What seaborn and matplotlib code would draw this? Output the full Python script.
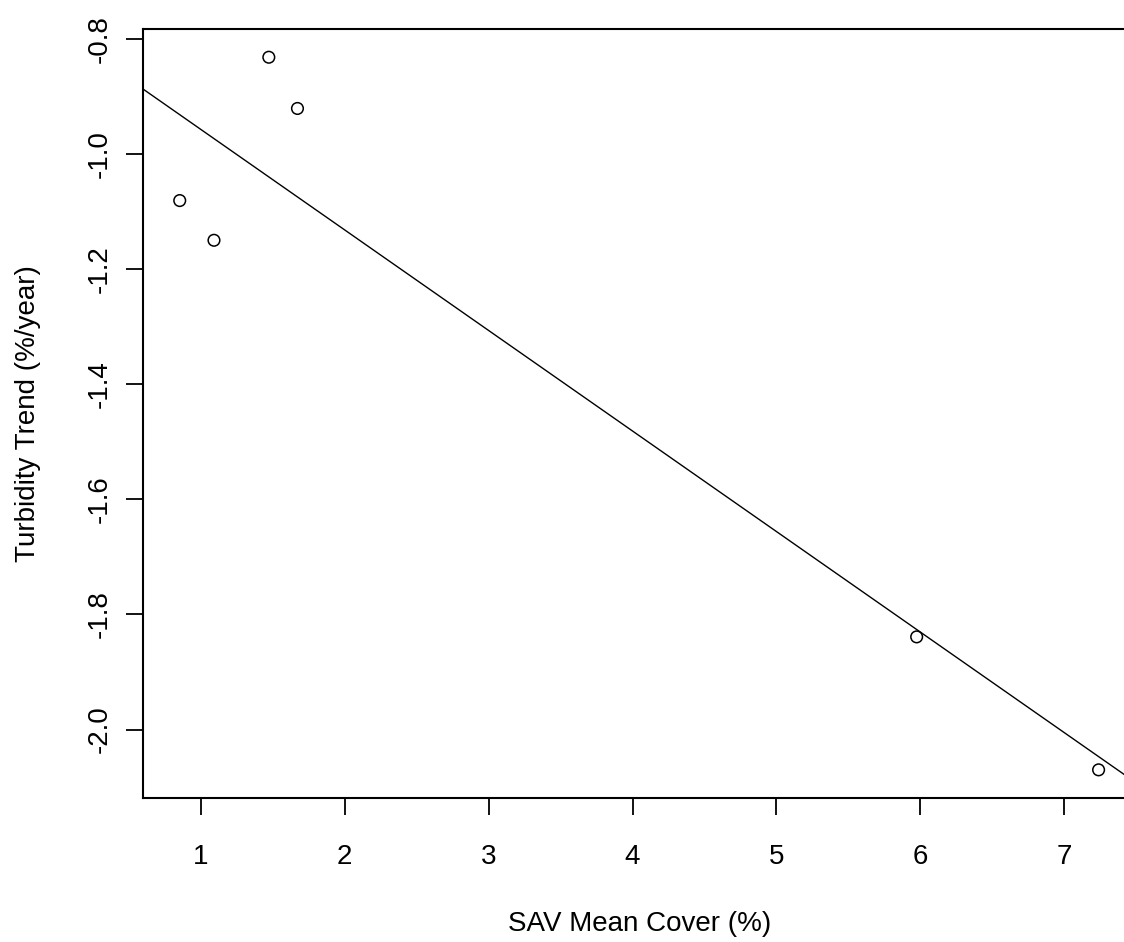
import numpy as np
import pandas as pd
import seaborn as sns
import matplotlib
matplotlib.use("Agg")
import matplotlib.pyplot as plt
from matplotlib.ticker import FormatStrFormatter

# Data
sav_cover = [0.854, 1.092, 1.473, 1.672, 5.974, 7.238]
turbidity_trend = [-1.081, -1.150, -0.832, -0.921, -1.839, -2.070]
x_ticks = [1, 2, 3, 4, 5, 6, 7]
y_ticks = [-2.0, -1.8, -1.6, -1.4, -1.2, -1.0, -0.8]

df = pd.DataFrame({"SAV": sav_cover, "Turbidity": turbidity_trend})

sns.set_style("ticks")
plt.rcParams["font.family"] = ["Liberation Sans", "DejaVu Sans"]
plt.rcParams["axes.unicode_minus"] = False
plt.rcParams["text.color"] = "black"
plt.rcParams["axes.labelcolor"] = "black"

fig = plt.figure(figsize=(11.24, 9.42), dpi=100)
# axes runs past the right edge of the figure, like the cropped original
ax = fig.add_axes([0.1272, 0.1525, 0.8829, 0.8170])

sns.scatterplot(data=df, x="SAV", y="Turbidity", ax=ax, marker="o", s=70,
                facecolor="none", edgecolor="black", linewidth=1.1, zorder=3)

# least squares line (abline of lm)
slope, intercept = np.polyfit(df["SAV"], df["Turbidity"], 1)
ax.axline((0, intercept), slope=slope, color="black", linewidth=1.0)

# R style 4% axis padding
xr = df["SAV"].max() - df["SAV"].min()
yr = df["Turbidity"].max() - df["Turbidity"].min()
ax.set_xlim(df["SAV"].min() - 0.04 * xr, df["SAV"].max() + 0.04 * xr)
ax.set_ylim(df["Turbidity"].min() - 0.04 * yr, df["Turbidity"].max() + 0.04 * yr)

ax.set_xticks(x_ticks)
ax.set_yticks(y_ticks)
ax.yaxis.set_major_formatter(FormatStrFormatter("%.1f"))

for side in ["top", "bottom", "left", "right"]:
    ax.spines[side].set_visible(True)
    ax.spines[side].set_linewidth(1.5)
    ax.spines[side].set_color("black")

ax.tick_params(axis="both", length=12, width=1.3, color="black",
               labelsize=20, labelcolor="black")
ax.tick_params(axis="x", pad=21)
ax.tick_params(axis="y", pad=10, labelrotation=90)
for lab in ax.get_yticklabels():
    lab.set_va("center")

ax.set_xlabel("SAV Mean Cover (%)", fontsize=20, va="center", color="black")
ax.set_ylabel("Turbidity Trend (%/year)", fontsize=20, va="center", color="black")
ax.xaxis.set_label_coords(0.5, -0.1627)
ax.yaxis.set_label_coords(-0.1159, 0.5)

fig.savefig("out.png", dpi=100, facecolor="white")
